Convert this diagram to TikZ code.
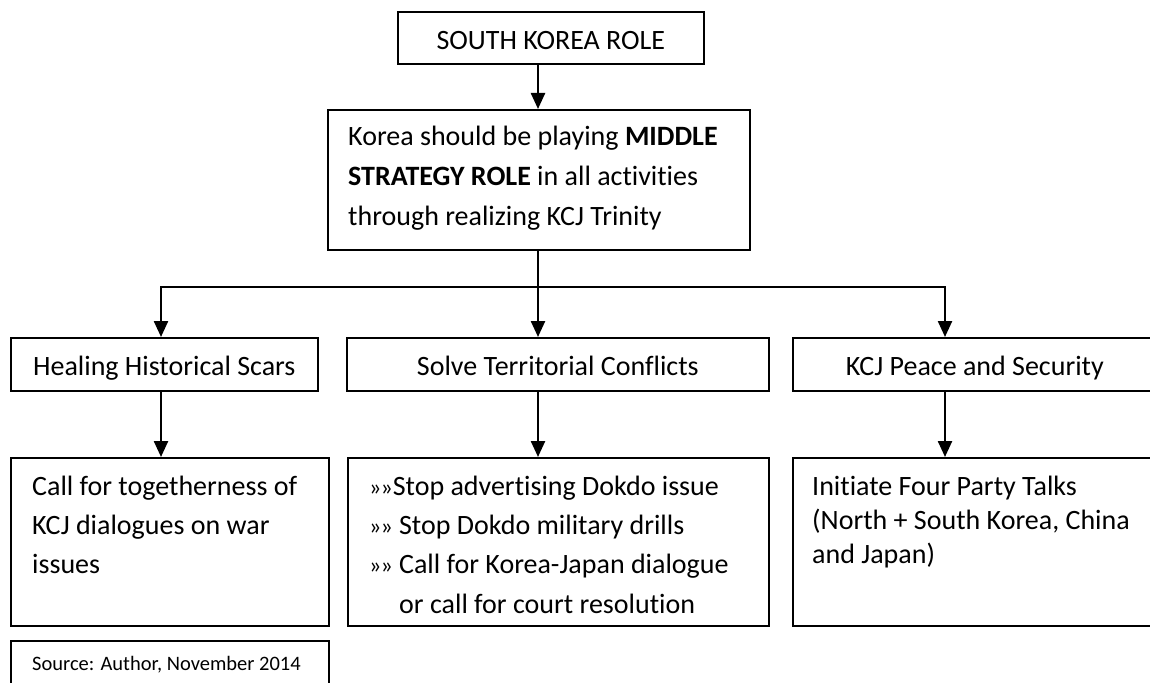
\documentclass[tikz,border=0pt]{standalone}
\usepackage{fontspec}
\setmainfont{Carlito}[Ligatures=NoCommon]
\usetikzlibrary{positioning}
\usetikzlibrary{calc}
\usetikzlibrary{arrows.meta}
\newcommand{\chev}{{\fontsize{24}{24}\selectfont »\kern-1pt»}}

\begin{document}
\begin{tikzpicture}[x=1pt,y=-1pt,
    box/.style={draw,line width=1.6pt,inner sep=0pt,anchor=north west},
    label box/.style={box,font=\fontsize{28}{34}\selectfont,text height=28pt,text depth=5pt},
    txt/.style={inner sep=0pt,anchor=base west,align=left,font=\fontsize{28}{39.3}\selectfont},
    arr/.style={line width=2.4pt,-{Triangle[width=14pt,length=16pt]}}]
    \clip (0,0) rectangle (1150,682);
    % columns of the arrows
    \coordinate (colL) at (161,287);
    \coordinate (colM) at (538,287);
    \coordinate (colR) at (945,287);
    % boxes
    \node[label box,minimum width=306pt,minimum height=52pt] (role) at (397,11) {SOUTH KOREA ROLE};
    \node[box,minimum width=422pt,minimum height=140pt] (strat) at (327,109) {};
    \node[label box,minimum width=307pt,minimum height=53pt] (heal) at (10,337) {Healing Historical Scars};
    \node[label box,minimum width=422pt,minimum height=53pt] (solve) at (346,337) {Solve Territorial Conflicts};
    \node[label box,minimum width=364pt,minimum height=53pt] (peace) at (792,337) {KCJ Peace and Security};
    \node[box,minimum width=318pt,minimum height=168pt] (together) at (10,457) {};
    \node[box,minimum width=421pt,minimum height=168pt] (dokdo) at (347,457) {};
    \node[box,minimum width=364pt,minimum height=168pt] (talks) at (792,457) {};
    \node[box,minimum width=318pt,minimum height=60pt] (src) at (10,640) {};
    % texts (anchored on the baseline of the last line)
    \node[txt,font=\fontsize{28}{40}\selectfont] (strattxt) at (348,225) {Korea should be playing \textbf{MIDDLE}\\\textbf{STRATEGY ROLE} in all activities\\through realizing KCJ Trinity};
    \node[txt,font=\fontsize{28}{39}\selectfont] (togethertxt) at (32,573) {Call for togetherness of\\KCJ dialogues on war\\issues};
    \node[txt] (dokdotxt) at (369,613) {\chev Stop advertising Dokdo issue\\\chev{} Stop Dokdo military drills\\\chev{} Call for Korea-Japan dialogue\\\hspace*{30pt}or call for court resolution};
    \node[txt,font=\fontsize{28}{34}\selectfont] (talkstxt) at (812,563) {Initiate Four Party Talks\\(North + South Korea, China\\and Japan)};
    \node[txt,font=\fontsize{20.5}{25}\selectfont] (srctxt) at (32,670) {Source: Author, November 2014};
    % connectors
    \draw[arr] (role.south -| colM) -- (strat.north -| colM);
    \draw[arr] (strat.south -| colM) -- (solve.north -| colM);
    \draw[arr] (colM) -| (heal.north -| colL);
    \draw[arr] (colM) -| (peace.north -| colR);
    \draw[arr] (heal.south -| colL) -- (together.north -| colL);
    \draw[arr] (solve.south -| colM) -- (dokdo.north -| colM);
    \draw[arr] (peace.south -| colR) -- (talks.north -| colR);
\end{tikzpicture}
\end{document}
